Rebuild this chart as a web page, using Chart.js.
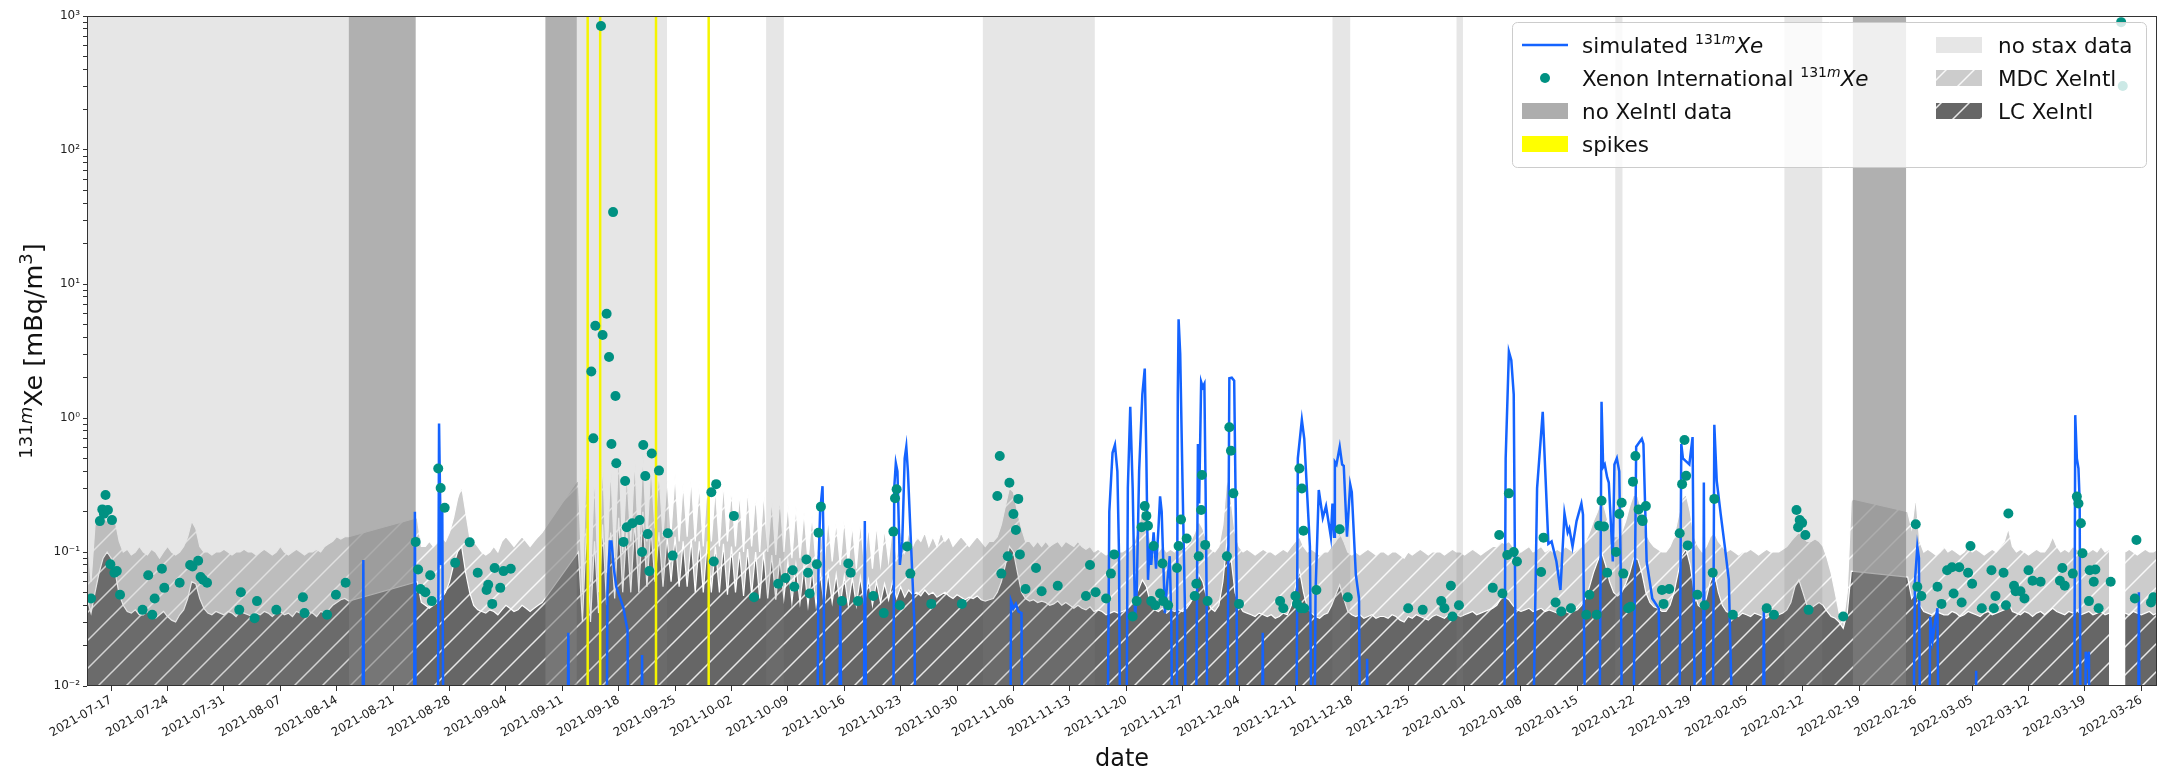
<!DOCTYPE html>
<html>
<head>
<meta charset="utf-8">
<script src="https://cdn.jsdelivr.net/npm/chart.js@4.4.0/dist/chart.umd.min.js"></script>
<style>
  html, body { margin: 0; padding: 0; background: #fff; }
</style>
</head>
<body>
<canvas id="chart" width="2165" height="773"></canvas>
<script>
// day 0 = 2021-07-14, all x values are days from that date
const startDate = '2021-07-14';
const endDay = 256.95;

const tickLabels = [
  '2021-07-17', '2021-07-24', '2021-07-31', '2021-08-07', '2021-08-14', '2021-08-21',
  '2021-08-28', '2021-09-04', '2021-09-11', '2021-09-18', '2021-09-25', '2021-10-02',
  '2021-10-09', '2021-10-16', '2021-10-23', '2021-10-30', '2021-11-06', '2021-11-13',
  '2021-11-20', '2021-11-27', '2021-12-04', '2021-12-11', '2021-12-18', '2021-12-25',
  '2022-01-01', '2022-01-08', '2022-01-15', '2022-01-22', '2022-01-29', '2022-02-05',
  '2022-02-12', '2022-02-19', '2022-02-26', '2022-03-05', '2022-03-12', '2022-03-19',
  '2022-03-26'
];

// shaded periods [from, to] in days
const noStaxBands = [[0, 32.5], [60.8, 72.0], [84.3, 86.5], [111.2, 125.1], [154.6, 156.8],
  [170.0, 170.8], [189.7, 190.6], [210.7, 215.4]];
const noXeIntlBands = [[32.5, 40.8], [56.9, 60.8], [219.2, 225.8]];
const spikeDays = [62.15, 63.7, 70.63, 77.17];

// MDC / LC of XeIntl, one value every 12 h, one row per week (null = no value)
const seriesStep = 0.5;
const mdcValues = [
  0.14, 0.06, 0.16, 0.17, 0.18, 0.17, 0.19, 0.17, 0.12, 0.1, 0.105, 0.095, 0.1, 0.11,
  0.1, 0.095, 0.105, 0.1, 0.09, 0.1, 0.11, 0.1, 0.095, 0.1, 0.11, 0.13, 0.17, 0.15,
  0.11, 0.1, 0.1, 0.095, 0.1, 0.1, 0.105, 0.1, 0.095, 0.1, 0.1, 0.105, 0.1, 0.1,
  0.095, 0.1, 0.105, 0.1, 0.095, 0.1, 0.11, 0.1, 0.095, 0.1, 0.105, 0.1, 0.095, 0.1,
  0.1, 0.105, 0.1, 0.11, 0.115, 0.12, 0.13, 0.125, 0.13, 0.13, null, null, null, null,
  null, null, null, null, null, null, null, null, null, null, null, null, 0.18, 0.11,
  0.11, 0.12, 0.11, 0.12, 0.13, 0.12, 0.14, 0.18, 0.25, 0.31, 0.2, 0.13, 0.12, 0.11,
  0.1, 0.095, 0.1, 0.11, 0.1, 0.12, 0.13, 0.12, 0.11, 0.12, 0.13, 0.12, 0.11, 0.12,
  0.13, 0.14, null, null, null, null, null, null, null, null, 0.35, 0.05, 0.55, 0.06,
  0.4, 0.05, 0.5, 0.07, 0.45, 0.09, 0.6, 0.1, 0.4, 0.12, 0.5, 0.1, 0.55, 0.12,
  0.45, 0.15, 0.4, 0.13, 0.35, 0.14, 0.38, 0.12, 0.33, 0.13, 0.36, 0.12, 0.32, 0.11,
  0.34, 0.12, 0.3, 0.11, 0.33, 0.12, 0.3, 0.11, 0.28, 0.1, 0.3, 0.11, 0.27, 0.1,
  0.28, 0.1, 0.25, 0.095, 0.26, 0.1, 0.23, 0.09, 0.22, 0.09, 0.2, 0.085, 0.19, 0.08,
  0.19, 0.08, 0.18, 0.085, 0.17, 0.08, 0.18, 0.08, 0.16, 0.075, 0.17, 0.08, 0.16, 0.075,
  0.16, 0.08, 0.15, 0.085, 0.16, 0.09, 0.15, 0.1, 0.14, 0.11, 0.13, 0.12, 0.14, 0.11,
  0.13, 0.11, 0.14, 0.12, 0.13, 0.11, 0.12, 0.13, 0.12, 0.11, 0.12, 0.13, 0.12, 0.11,
  0.12, 0.12, 0.13, 0.16, 0.22, 0.3, 0.28, 0.2, 0.15, 0.12, 0.12, 0.11, 0.12, 0.11,
  0.12, 0.11, 0.115, 0.12, 0.11, 0.12, 0.115, 0.11, 0.12, 0.11, 0.105, 0.11, 0.1, 0.105,
  0.1, 0.095, 0.1, 0.105, 0.1, 0.1, 0.105, 0.11, 0.12, 0.15, 0.21, 0.18, 0.12, 0.105,
  0.1, 0.11, 0.1, 0.105, 0.1, 0.11, 0.105, 0.11, 0.12, 0.14, 0.17, 0.15, 0.12, 0.105,
  0.1, 0.11, 0.16, 0.36, 0.25, 0.14, 0.11, 0.1, 0.105, 0.1, 0.095, 0.1, 0.105, 0.1,
  0.1, 0.095, 0.1, 0.105, 0.1, 0.11, 0.12, 0.13, 0.11, 0.1, 0.105, 0.1, 0.095, 0.1,
  0.1, 0.11, 0.12, 0.14, 0.12, 0.1, 0.095, 0.1, 0.095, 0.1, 0.105, 0.1, 0.095, 0.1,
  0.1, 0.095, 0.1, 0.1, 0.095, 0.09, 0.1, 0.095, 0.1, 0.105, 0.1, 0.095, 0.1, 0.1,
  0.1, 0.095, 0.1, 0.105, 0.1, 0.1, 0.095, 0.1, 0.105, 0.1, 0.095, 0.1, 0.105, 0.11,
  0.11, 0.12, 0.115, 0.12, 0.11, 0.105, 0.1, 0.105, 0.11, 0.1, 0.105, 0.11, 0.1, 0.105,
  0.1, 0.105, 0.1, 0.11, 0.105, 0.1, 0.105, 0.11, 0.12, 0.14, 0.17, 0.2, 0.25, 0.2,
  0.15, 0.13, 0.13, 0.14, 0.17, 0.22, 0.27, 0.26, 0.2, 0.14, 0.12, 0.11, 0.105, 0.1,
  0.1, 0.11, 0.13, 0.18, 0.25, 0.27, 0.2, 0.13, 0.11, 0.1, 0.11, 0.13, 0.14, 0.12,
  0.11, 0.1, 0.105, 0.1, 0.095, 0.1, 0.1, 0.105, 0.1, 0.095, 0.1, 0.105, 0.1, 0.1,
  0.1, 0.105, 0.11, 0.12, 0.13, 0.14, 0.13, 0.12, 0.12, 0.125, 0.12, 0.11, 0.09, 0.07,
  0.05, 0.035, 0.03, 0.05, 0.25, null, null, null, null, null, null, null, null, null,
  null, null, null, null, 0.2, 0.15, 0.26, 0.12, 0.1, 0.105, 0.1, 0.095, 0.1, 0.11,
  0.1, 0.105, 0.1, 0.095, 0.1, 0.11, 0.1, 0.105, 0.1, 0.095, 0.1, 0.105, 0.1, 0.11,
  0.12, 0.15, 0.11, 0.1, 0.105, 0.1, 0.095, 0.1, 0.105, 0.1, 0.1, 0.11, 0.13, 0.11,
  0.1, 0.105, 0.1, 0.11, 0.105, 0.1, 0.095, 0.1, 0.105, 0.1, 0.11, 0.1, 0.105, null,
  null, null, 0.1, 0.105, 0.1, 0.095, 0.1, 0.105, 0.1, 0.1, 0.105, 0.1, 0.1, 0.1
];
const lcValues = [
  0.045, 0.035, 0.05, 0.07, 0.09, 0.1, 0.09, 0.07, 0.048, 0.04, 0.036, 0.035, 0.037, 0.034,
  0.034, 0.036, 0.033, 0.032, 0.034, 0.036, 0.033, 0.031, 0.03, 0.034, 0.037, 0.045, 0.06, 0.058,
  0.045, 0.038, 0.035, 0.034, 0.036, 0.035, 0.034, 0.036, 0.035, 0.033, 0.036, 0.035, 0.034, 0.033,
  0.035, 0.034, 0.036, 0.035, 0.033, 0.035, 0.036, 0.034, 0.035, 0.033, 0.036, 0.035, 0.034, 0.036,
  0.035, 0.033, 0.036, 0.035, 0.037, 0.04, 0.042, 0.044, 0.045, 0.043, null, null, null, null,
  null, null, null, null, null, null, null, null, null, null, null, null, 0.06, 0.042,
  0.04, 0.038, 0.04, 0.042, 0.045, 0.05, 0.06, 0.08, 0.1, 0.11, 0.07, 0.05, 0.04, 0.037,
  0.036, 0.035, 0.037, 0.036, 0.034, 0.037, 0.04, 0.038, 0.036, 0.037, 0.04, 0.038, 0.036, 0.038,
  0.04, 0.042, null, null, null, null, null, null, null, null, 0.1, 0.03, 0.15, 0.03,
  0.12, 0.035, 0.16, 0.04, 0.14, 0.045, 0.18, 0.05, 0.15, 0.05, 0.17, 0.05, 0.2, 0.055,
  0.15, 0.06, 0.14, 0.055, 0.13, 0.06, 0.13, 0.055, 0.12, 0.055, 0.125, 0.05, 0.12, 0.05,
  0.12, 0.05, 0.11, 0.05, 0.115, 0.048, 0.11, 0.05, 0.1, 0.047, 0.105, 0.048, 0.1, 0.045,
  0.1, 0.045, 0.095, 0.044, 0.09, 0.045, 0.085, 0.042, 0.08, 0.042, 0.078, 0.04, 0.075, 0.04,
  0.072, 0.04, 0.07, 0.042, 0.068, 0.04, 0.066, 0.04, 0.064, 0.04, 0.065, 0.041, 0.062, 0.04,
  0.06, 0.042, 0.058, 0.044, 0.06, 0.045, 0.055, 0.046, 0.052, 0.048, 0.05, 0.047, 0.052, 0.048,
  0.05, 0.046, 0.048, 0.05, 0.047, 0.045, 0.048, 0.046, 0.044, 0.046, 0.045, 0.047, 0.044, 0.043,
  0.044, 0.045, 0.05, 0.06, 0.08, 0.11, 0.1, 0.07, 0.05, 0.045, 0.043, 0.044, 0.042, 0.043,
  0.042, 0.04, 0.041, 0.043, 0.04, 0.042, 0.04, 0.038, 0.04, 0.038, 0.037, 0.039, 0.036, 0.037,
  0.036, 0.034, 0.035, 0.036, 0.035, 0.036, 0.037, 0.04, 0.045, 0.052, 0.062, 0.055, 0.042, 0.037,
  0.036, 0.038, 0.035, 0.037, 0.036, 0.037, 0.036, 0.038, 0.042, 0.05, 0.068, 0.06, 0.045, 0.038,
  0.036, 0.04, 0.06, 0.12, 0.09, 0.05, 0.04, 0.036, 0.035, 0.034, 0.033, 0.035, 0.034, 0.033,
  0.034, 0.032, 0.033, 0.035, 0.034, 0.04, 0.055, 0.073, 0.05, 0.038, 0.035, 0.033, 0.032, 0.034,
  0.035, 0.04, 0.048, 0.057, 0.045, 0.036, 0.034, 0.033, 0.034, 0.032, 0.033, 0.034, 0.032, 0.033,
  0.033, 0.032, 0.034, 0.033, 0.031, 0.03, 0.033, 0.032, 0.034, 0.033, 0.032, 0.031, 0.033, 0.034,
  0.033, 0.032, 0.034, 0.035, 0.034, 0.033, 0.034, 0.035, 0.036, 0.034, 0.035, 0.036, 0.037, 0.038,
  0.04, 0.045, 0.046, 0.044, 0.04, 0.037, 0.036, 0.037, 0.038, 0.036, 0.037, 0.038, 0.036, 0.037,
  0.036, 0.035, 0.037, 0.036, 0.035, 0.036, 0.037, 0.04, 0.045, 0.055, 0.07, 0.085, 0.1, 0.08,
  0.06, 0.05, 0.047, 0.05, 0.058, 0.07, 0.09, 0.088, 0.07, 0.05, 0.042, 0.039, 0.038, 0.036,
  0.036, 0.04, 0.05, 0.07, 0.095, 0.105, 0.08, 0.05, 0.04, 0.038, 0.045, 0.06, 0.07, 0.05,
  0.04, 0.036, 0.035, 0.034, 0.033, 0.035, 0.034, 0.033, 0.035, 0.034, 0.033, 0.032, 0.034, 0.033,
  0.034, 0.035, 0.037, 0.042, 0.055, 0.062, 0.05, 0.04, 0.038, 0.04, 0.042, 0.04, 0.036, 0.033,
  0.032, 0.03, 0.027, 0.035, 0.072, null, null, null, null, null, null, null, null, null,
  null, null, null, null, 0.065, 0.045, 0.05, 0.04, 0.036, 0.035, 0.034, 0.036, 0.035, 0.034,
  0.034, 0.036, 0.035, 0.033, 0.034, 0.036, 0.035, 0.034, 0.033, 0.035, 0.036, 0.034, 0.035, 0.036,
  0.037, 0.042, 0.036, 0.035, 0.034, 0.036, 0.035, 0.033, 0.035, 0.036, 0.034, 0.036, 0.038, 0.036,
  0.035, 0.034, 0.036, 0.035, 0.037, 0.034, 0.035, 0.036, 0.034, 0.035, 0.036, 0.034, 0.035, null,
  null, null, 0.035, 0.034, 0.036, 0.035, 0.034, 0.035, 0.036, 0.034, 0.035, 0.035, 0.035, 0.035
];

// simulated 131mXe [day, value]; L = below the axis
const L = 1e-4;
const simulated = [
  [0, L],
  [34.1, L], [34.3, 0.087], [34.5, L],
  [40.5, L], [40.7, 0.2], [40.9, L],
  [43.45, L], [43.7, 0.91], [43.95, 0.08], [44.1, 0.21], [44.35, L],
  [59.5, L], [59.75, 0.025], [60.0, L],
  [64.4, L], [64.6, 0.05], [64.9, 0.12], [65.1, 0.12], [65.4, 0.075], [65.7, 0.055], [66.2, 0.045],
  [66.6, 0.038], [66.9, 0.03], [67.1, 0.026], [67.3, L],
  [68.7, L], [68.9, 0.017], [69.1, L],
  [90.5, L], [90.8, 0.08], [91.0, 0.2], [91.3, 0.31], [91.45, 0.1], [91.6, L],
  [93.2, L], [93.5, 0.043], [93.9, L],
  [96.3, L], [96.55, 0.17], [96.9, L],
  [100.0, L], [100.2, 0.3], [100.4, 0.46], [100.6, 0.4], [100.9, 0.08], [101.2, 0.12], [101.5, 0.5],
  [101.7, 0.61], [101.9, 0.4], [102.2, 0.15], [102.7, 0.03], [103.1, L],
  [114.5, L], [114.7, 0.043], [115.0, 0.038], [115.3, 0.041], [115.6, 0.036], [116.0, 0.035], [116.2, L],
  [126.5, L], [126.9, 0.2], [127.3, 0.55], [127.6, 0.63], [127.9, 0.4], [128.1, 0.1], [128.4, L],
  [128.9, L], [129.2, 0.3], [129.5, 1.21], [129.8, 0.3], [130.1, 0.032], [130.3, 0.05], [130.6, 0.4],
  [131.0, 1.5], [131.3, 2.34], [131.5, 0.5], [131.7, 0.062], [131.9, 0.11], [132.1, 0.08], [132.4, 0.14],
  [132.7, 0.075], [133.0, 0.15], [133.2, 0.26], [133.4, 0.2], [133.8, 0.035], [134.1, 0.06],
  [134.4, 0.093], [134.6, 0.03], [134.9, L],
  [135.2, L], [135.4, 1.5], [135.5, 5.46], [135.7, 3.0], [136.0, 0.3], [136.3, 0.035], [136.5, L],
  [137.5, L], [137.9, 0.64], [138.05, 0.23], [138.3, 1.86], [138.5, 1.7], [138.7, 1.8], [138.85, 0.3],
  [139.0, 0.035], [139.1, L],
  [141.4, L], [141.8, 1.98], [142.1, 2.0], [142.4, 1.9], [142.7, 0.062], [142.9, L],
  [145.7, L], [145.95, 0.025], [146.2, L],
  [150.0, L], [150.3, 0.5], [150.8, 0.97], [151.1, 0.7], [151.8, 0.11], [152.2, L], [152.5, 0.05],
  [152.9, 0.29], [153.4, 0.18], [153.8, 0.22], [154.4, 0.13], [154.6, 0.23], [154.8, 0.13], [154.9, 0.47],
  [155.1, 0.45], [155.5, 0.61], [155.8, 0.45], [156.0, 0.44], [156.4, 0.13], [156.8, 0.32], [157.0, 0.28],
  [157.5, 0.068], [157.9, 0.045], [158.2, L],
  [158.6, L], [158.9, 0.016], [159.2, L],
  [175.8, L], [176.1, 0.5], [176.5, 3.13], [176.8, 2.7], [177.1, 1.5], [177.6, L],
  [179.1, L], [180.0, 0.3], [180.7, 1.11], [181.4, 0.115], [181.8, 0.12], [182.4, 0.085], [182.9, 0.052],
  [183.4, 0.194], [183.8, 0.14], [184.0, 0.15], [184.4, 0.11], [184.9, 0.17], [185.5, 0.23], [185.7, 0.19],
  [186.2, L],
  [187.6, L], [188.0, 1.32], [188.2, 0.43], [188.4, 0.45], [188.7, 0.36], [188.9, 0.33], [189.4, 0.085],
  [189.6, 0.45], [189.9, 0.5], [190.2, 0.4], [190.4, 0.062], [190.7, L],
  [191.7, L], [192.3, 0.61], [193.0, 0.7], [193.2, 0.64], [193.6, 0.085], [194.3, 0.045], [195.1, 0.038],
  [195.7, L],
  [197.5, L], [197.9, 0.64], [198.1, 0.5], [198.4, 0.48], [198.9, 0.45], [199.3, 0.72], [199.8, L],
  [200.5, L], [200.7, 0.33], [200.9, L],
  [201.7, L], [202.0, 0.89], [202.3, 0.34], [202.8, 0.19], [203.3, 0.11], [203.8, 0.062], [204.9, L],
  [207.9, L], [208.15, 0.04], [208.4, L],
  [226.5, L], [226.9, 0.06], [227.2, 0.11], [227.4, 0.09], [227.7, L], [228.5, L], [228.8, 0.033],
  [229.1, 0.022], [229.4, 0.03], [229.7, 0.038], [230.0, L],
  [234.3, L], [234.5, 0.013], [234.7, L],
  [246.6, L], [246.8, 1.05], [247.0, 0.5], [247.2, 0.42], [247.35, 0.24], [247.55, L], [247.9, L],
  [248.1, 0.018], [248.3, 0.015], [248.5, 0.018], [248.7, L],
  [254.5, L], [254.7, 0.05], [254.9, L],
  [257, L]
];

// Xenon International measurements [day, value]
const xenonIntl = [
  [0.5, 0.045], [1.6, 0.17], [1.9, 0.208], [2.1, 0.193], [2.3, 0.266], [2.6, 0.206], [3.1, 0.173],
  [2.9, 0.081], [3.4, 0.07], [3.7, 0.072], [4.1, 0.048], [6.9, 0.037], [7.6, 0.067], [8.1, 0.034],
  [8.4, 0.045], [9.3, 0.075], [9.6, 0.054], [11.5, 0.059], [12.8, 0.08], [13.1, 0.078], [13.8, 0.086],
  [14.1, 0.065], [14.4, 0.062], [14.9, 0.059], [18.9, 0.037], [19.1, 0.05], [20.8, 0.032], [21.1, 0.043],
  [23.5, 0.037], [26.8, 0.046], [27.0, 0.035], [29.8, 0.034], [30.9, 0.048], [32.1, 0.059],
  [40.8, 0.119], [41.1, 0.074], [41.4, 0.053], [42.0, 0.05], [42.6, 0.067], [42.8, 0.043], [43.6, 0.42],
  [43.9, 0.3], [44.4, 0.214], [45.7, 0.083], [47.5, 0.118], [48.5, 0.07], [49.6, 0.052], [49.8, 0.057],
  [50.3, 0.041], [50.6, 0.076], [51.3, 0.054], [51.7, 0.072], [52.6, 0.075],
  [62.6, 2.22], [62.85, 0.705], [63.1, 4.88], [63.8, 841], [64.0, 4.16], [64.5, 6.0], [64.8, 2.85],
  [65.1, 0.64], [65.3, 34.4], [65.6, 1.46], [65.7, 0.46], [66.6, 0.119], [66.8, 0.339], [67.0, 0.153],
  [67.7, 0.164], [68.6, 0.173], [68.9, 0.1], [69.05, 0.628], [69.3, 0.369], [69.6, 0.136], [69.8, 0.072],
  [70.1, 0.544], [71.0, 0.405], [72.1, 0.138], [72.7, 0.094], [77.5, 0.279], [77.8, 0.085], [78.1, 0.321],
  [80.3, 0.186], [82.8, 0.046], [85.8, 0.058], [86.7, 0.064], [87.6, 0.073], [87.8, 0.055], [89.3, 0.088],
  [89.5, 0.07], [89.7, 0.049], [90.6, 0.081], [90.8, 0.139], [91.1, 0.218], [93.7, 0.043], [94.5, 0.082],
  [94.8, 0.07], [95.7, 0.043], [97.6, 0.047], [98.9, 0.035], [100.1, 0.142], [100.3, 0.252],
  [100.5, 0.294], [100.9, 0.04], [101.8, 0.11], [102.2, 0.069], [104.8, 0.041], [108.6, 0.041],
  [113.0, 0.262], [113.3, 0.52], [113.5, 0.069], [114.3, 0.093], [114.5, 0.329], [115.0, 0.192],
  [115.3, 0.146], [115.6, 0.249], [115.8, 0.096], [116.5, 0.053], [117.8, 0.076], [118.5, 0.051],
  [120.5, 0.056], [124.0, 0.047], [124.5, 0.08], [125.2, 0.05], [126.5, 0.045], [127.1, 0.069],
  [127.5, 0.096], [129.8, 0.033], [130.3, 0.043], [130.9, 0.153], [131.3, 0.22], [131.5, 0.186],
  [131.7, 0.157], [132.1, 0.043], [132.4, 0.111], [132.6, 0.04], [133.2, 0.049], [133.5, 0.082],
  [133.6, 0.043], [134.2, 0.04], [135.3, 0.076], [135.5, 0.111], [135.8, 0.175], [136.5, 0.126],
  [137.5, 0.047], [137.7, 0.058], [138.0, 0.093], [138.3, 0.206], [138.4, 0.376], [138.8, 0.113],
  [139.1, 0.043], [141.5, 0.093], [141.8, 0.853], [142.0, 0.57], [142.3, 0.274], [143.0, 0.041],
  [148.1, 0.043], [148.5, 0.038], [150.0, 0.047], [150.2, 0.041], [150.5, 0.42], [150.7, 0.038],
  [150.8, 0.298], [151.0, 0.144], [151.1, 0.038], [152.6, 0.052], [155.5, 0.148], [156.5, 0.046],
  [164.0, 0.038], [165.8, 0.037], [168.1, 0.043], [168.5, 0.038], [169.3, 0.056], [169.5, 0.033],
  [170.3, 0.04], [174.5, 0.054], [175.3, 0.134], [175.7, 0.049], [176.3, 0.095], [176.5, 0.274],
  [177.1, 0.1], [177.5, 0.085], [180.5, 0.071], [180.8, 0.128], [182.3, 0.042], [183.0, 0.036],
  [184.2, 0.038], [186.1, 0.034], [186.5, 0.048], [187.4, 0.034], [187.7, 0.157], [188.0, 0.241],
  [188.3, 0.155], [188.7, 0.07], [189.8, 0.1], [190.2, 0.192], [190.5, 0.233], [190.7, 0.069],
  [191.3, 0.038], [191.6, 0.039], [191.9, 0.335], [192.2, 0.52], [192.6, 0.208], [193.0, 0.175],
  [193.1, 0.17], [193.5, 0.22], [195.5, 0.052], [195.7, 0.041], [196.4, 0.053], [197.7, 0.138],
  [198.0, 0.321], [198.3, 0.685], [198.5, 0.37], [198.7, 0.112], [199.9, 0.048], [200.8, 0.04],
  [201.8, 0.07], [202.0, 0.249], [204.3, 0.034], [208.5, 0.038], [209.4, 0.034], [212.2, 0.206],
  [212.4, 0.153], [212.6, 0.173], [212.9, 0.165], [213.3, 0.134], [213.7, 0.037], [218.0, 0.033],
  [227.0, 0.161], [227.2, 0.055], [227.7, 0.047], [229.7, 0.055], [230.2, 0.041], [230.9, 0.073],
  [231.5, 0.077], [231.7, 0.049], [232.4, 0.077], [232.7, 0.042], [233.5, 0.07], [233.8, 0.111],
  [234.0, 0.058], [235.2, 0.038], [236.4, 0.073], [236.7, 0.038], [236.9, 0.047], [237.9, 0.07],
  [238.2, 0.04], [238.5, 0.194], [239.2, 0.056], [239.4, 0.051], [240.0, 0.051], [240.5, 0.045],
  [241.0, 0.073], [241.5, 0.061], [242.5, 0.06], [244.9, 0.061], [245.2, 0.076], [245.5, 0.056],
  [246.5, 0.069], [247.0, 0.259], [247.2, 0.23], [247.5, 0.164], [247.7, 0.098], [248.5, 0.043],
  [248.6, 0.073], [249.1, 0.06], [249.3, 0.074], [249.7, 0.038], [251.2, 0.06], [252.5, 900],
  [252.7, 300], [254.2, 0.045], [254.4, 0.123], [256.2, 0.042], [256.5, 0.046]
];

const colors = {
  sim: '#1463ff',
  xe: '#009182',
  mdc: '#cccccc',
  lc: '#666666',
  noStax: 'rgba(128,128,128,0.2)',
  noXeIntl: 'rgba(128,128,128,0.62)',
  spike: '#f5f500'
};
const FONT = "'DejaVu Sans', sans-serif";

const t0 = Date.parse(startDate + 'T00:00:00Z');
const dayOf = s => (Date.parse(s + 'T00:00:00Z') - t0) / 864e5;

const canvas = document.getElementById('chart');
const ctx = canvas.getContext('2d');

function hatch(base) {
  const s = 28;
  const c = document.createElement('canvas');
  c.width = c.height = s;
  const g = c.getContext('2d');
  g.fillStyle = base;
  g.fillRect(0, 0, s, s);
  g.strokeStyle = 'rgba(255,255,255,0.85)';
  g.lineWidth = 1.5;
  g.beginPath();
  g.moveTo(-2, s + 2); g.lineTo(s + 2, -2);
  g.moveTo(-2, 2); g.lineTo(2, -2);
  g.moveTo(s - 2, s + 2); g.lineTo(s + 2, s - 2);
  g.stroke();
  return ctx.createPattern(c, 'repeat');
}
const mdcPattern = hatch(colors.mdc);
const lcPattern = hatch(colors.lc);

// nulls inside a "no XeIntl" period are bridged by a straight line, others break the area
function bandPoints(values) {
  const pts = [];
  values.forEach((v, i) => {
    const d = i * seriesStep;
    if (v === null) {
      if (noXeIntlBands.some(([a, b]) => d >= a && d <= b)) return;
      pts.push({ x: d, y: null });
    } else {
      pts.push({ x: d, y: v });
    }
  });
  return pts;
}

const yTicks = [];
for (let e = -2; e <= 3; e++) {
  for (let m = 1; m <= 9; m++) {
    const v = m * Math.pow(10, e);
    if (v <= 1000) yTicks.push(v);
  }
}
const supers = { '-2': '⁻²', '-1': '⁻¹', '0': '⁰', '1': '¹', '2': '²', '3': '³' };

// draw text pieces [text, size, rise, italic] one after another
function richWidth(c, parts) {
  let w = 0;
  parts.forEach(p => {
    c.font = (p[3] ? 'italic ' : '') + p[1] + 'px ' + FONT;
    w += c.measureText(p[0]).width;
  });
  return w;
}
function richText(c, parts, x, y) {
  c.textBaseline = 'alphabetic';
  c.textAlign = 'left';
  parts.forEach(p => {
    c.font = (p[3] ? 'italic ' : '') + p[1] + 'px ' + FONT;
    c.fillText(p[0], x, y - p[2]);
    x += c.measureText(p[0]).width;
  });
}

const bandsPlugin = {
  id: 'bands',
  afterDatasetDraw(chart, args) {
    if (chart.data.datasets[args.index].id !== 'lc') return;
    const c = chart.ctx, a = chart.chartArea, xs = chart.scales.x;
    c.save();
    c.beginPath();
    c.rect(a.left, a.top, a.width, a.height);
    c.clip();
    c.fillStyle = colors.noStax;
    noStaxBands.forEach(([s, e]) => {
      const x1 = xs.getPixelForValue(s), x2 = xs.getPixelForValue(e);
      c.fillRect(x1, a.top, x2 - x1, a.height);
    });
    c.fillStyle = colors.noXeIntl;
    noXeIntlBands.forEach(([s, e]) => {
      const x1 = xs.getPixelForValue(s), x2 = xs.getPixelForValue(e);
      c.fillRect(x1, a.top, x2 - x1, a.height);
    });
    c.strokeStyle = colors.spike;
    c.lineWidth = 2.5;
    spikeDays.forEach(d => {
      const x = xs.getPixelForValue(d);
      c.beginPath();
      c.moveTo(x, a.top);
      c.lineTo(x, a.bottom);
      c.stroke();
    });
    c.restore();
  }
};

const decoPlugin = {
  id: 'deco',
  afterDraw(chart) {
    const c = chart.ctx, a = chart.chartArea;
    c.save();
    // frame
    c.strokeStyle = '#333';
    c.lineWidth = 1;
    c.strokeRect(a.left + 0.5, a.top + 0.5, a.width - 1, a.height - 1);

    // axis titles
    c.fillStyle = '#111';
    c.font = '24px ' + FONT;
    c.textAlign = 'center';
    c.textBaseline = 'alphabetic';
    c.fillText('date', (a.left + a.right) / 2, 766);

    const yParts = [['131', 18, 10, false], ['m', 18, 10, true], ['Xe [mBq/m', 25.5, 0, false],
      ['3', 18, 10, false], [']', 25.5, 0, false]];
    const yw = richWidth(c, yParts);
    c.save();
    c.translate(42, (a.top + a.bottom) / 2);
    c.rotate(-Math.PI / 2);
    richText(c, yParts, -yw / 2, 0);
    c.restore();

    // legend
    const bx = 1512, by = 22, bw = 634, bh = 145;
    c.fillStyle = 'rgba(255,255,255,0.8)';
    c.strokeStyle = '#cccccc';
    c.beginPath();
    c.roundRect(bx + 0.5, by + 0.5, bw, bh, 5);
    c.fill();
    c.stroke();

    const rows = [45, 78, 111, 144];
    const h1 = 1522, h2 = 1936, hw = 46, hh = 16;
    const t1 = 1582, t2 = 1998;
    // simulated
    c.strokeStyle = colors.sim;
    c.lineWidth = 2.5;
    c.beginPath();
    c.moveTo(h1, rows[0]); c.lineTo(h1 + hw, rows[0]);
    c.stroke();
    // Xenon International
    c.fillStyle = colors.xe;
    c.beginPath();
    c.arc(h1 + hw / 2, rows[1], 5, 0, Math.PI * 2);
    c.fill();
    // patches
    const patch = (x, y, fill) => {
      c.fillStyle = fill;
      c.fillRect(x, y - hh / 2, hw, hh);
    };
    patch(h1, rows[2], '#adadad');
    patch(h1, rows[3], '#ffff00');
    patch(h2, rows[0], '#e6e6e6');
    patch(h2, rows[1], mdcPattern);
    patch(h2, rows[2], lcPattern);

    c.fillStyle = '#111';
    const base = 8, fs = 21.5;
    richText(c, [['simulated ', fs, 0, false], ['131', 14, 9, false], ['m', 14, 9, true],
      ['Xe', fs, 0, true]], t1, rows[0] + base);
    richText(c, [['Xenon International ', fs, 0, false], ['131', 14, 9, false], ['m', 14, 9, true],
      ['Xe', fs, 0, true]], t1, rows[1] + base);
    richText(c, [['no XeIntl data', fs, 0, false]], t1, rows[2] + base);
    richText(c, [['spikes', fs, 0, false]], t1, rows[3] + base);
    richText(c, [['no stax data', fs, 0, false]], t2, rows[0] + base);
    richText(c, [['MDC XeIntl', fs, 0, false]], t2, rows[1] + base);
    richText(c, [['LC XeIntl', fs, 0, false]], t2, rows[2] + base);
    c.restore();
  }
};

new Chart(ctx, {
  type: 'line',
  data: {
    datasets: [
      {
        id: 'sim', label: 'simulated 131mXe',
        data: simulated.map(p => ({ x: p[0], y: p[1] })),
        borderColor: colors.sim, borderWidth: 2.5, pointRadius: 0, fill: false, tension: 0, order: 1
      },
      {
        id: 'xe', type: 'scatter', label: 'Xenon International 131mXe',
        data: xenonIntl.map(p => ({ x: p[0], y: p[1] })),
        backgroundColor: colors.xe, borderWidth: 0, pointRadius: 5, order: 0
      },
      {
        id: 'mdc', label: 'MDC XeIntl', data: bandPoints(mdcValues),
        backgroundColor: mdcPattern, borderColor: '#ffffff', borderWidth: 1.2,
        pointRadius: 0, fill: 'start', tension: 0, order: 3
      },
      {
        id: 'lc', label: 'LC XeIntl', data: bandPoints(lcValues),
        backgroundColor: lcPattern, borderColor: '#ffffff', borderWidth: 1.2,
        pointRadius: 0, fill: 'start', tension: 0, order: 2
      }
    ]
  },
  options: {
    responsive: false,
    animation: false,
    devicePixelRatio: 1,
    events: [],
    layout: { padding: { top: 16, right: 8, left: 0, bottom: 0 } },
    plugins: { legend: { display: false }, tooltip: { enabled: false } },
    scales: {
      x: {
        type: 'linear', min: 0, max: endDay,
        afterBuildTicks: s => { s.ticks = tickLabels.map(l => ({ value: dayOf(l) })); },
        afterFit: s => { s.height = 87; },
        ticks: {
          autoSkip: false, maxRotation: 30, minRotation: 30, padding: 2,
          color: '#222', font: { family: FONT, size: 12 },
          callback: (v, i) => tickLabels[i]
        },
        grid: { drawOnChartArea: false, drawTicks: true, tickLength: 5, color: '#333' },
        border: { display: false }
      },
      y: {
        type: 'logarithmic', min: 0.01, max: 1000,
        afterBuildTicks: s => { s.ticks = yTicks.map(v => ({ value: v })); },
        afterFit: s => { s.width = 87; },
        ticks: {
          autoSkip: false, padding: 3, color: '#222', font: { family: FONT, size: 12 },
          callback: v => {
            const e = Math.log10(v);
            return Math.abs(e - Math.round(e)) < 1e-6 ? '10' + supers[Math.round(e)] : '';
          }
        },
        grid: { drawOnChartArea: false, drawTicks: true, tickLength: 4, color: '#333' },
        border: { display: false }
      }
    }
  },
  plugins: [bandsPlugin, decoPlugin]
});
</script>
</body>
</html>
